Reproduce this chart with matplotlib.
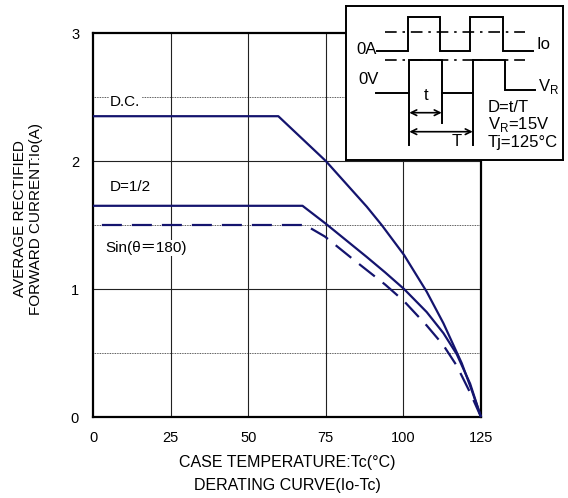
"""Derating curve Io-Tc (rectifier datasheet style)."""
import matplotlib
matplotlib.use("Agg")
import matplotlib.pyplot as plt

plt.rcParams["font.family"] = ["Liberation Sans", "Noto Sans CJK JP", "DejaVu Sans"]

# --- data ---
dc_t = [0, 59.7, 75, 88.2, 93, 100.2, 107.5, 112.9, 118.8, 122, 125]
dc_io = [2.35, 2.35, 2.0, 1.643, 1.50, 1.266, 0.979, 0.732, 0.42, 0.21, 0.0]

half_t = [0, 67.5, 75, 88.2, 94.1, 100.2, 107.5, 112.9, 117.2, 121.5, 125]
half_io = [1.65, 1.65, 1.51, 1.25, 1.13, 1.0, 0.82, 0.655, 0.49, 0.26, 0.0]

sin_t = [0, 68.3, 74.7, 83.9, 94.1, 100.2, 107.5, 112.9, 117.2, 121.5, 125]
sin_io = [1.5, 1.5, 1.41, 1.23, 1.035, 0.905, 0.715, 0.56, 0.40, 0.19, 0.0]

x_ticks = [0, 25, 50, 75, 100, 125]
y_ticks = [0, 1, 2, 3]
grid_x = [25, 50, 75, 100]
grid_y = [1, 2]
grid_y_dotted = [0.5, 1.5, 2.5]

# inset waveform sketch, in inset pixel units
io_x = [376.7, 408.3, 408.3, 440, 440, 470, 470, 503, 503, 532.7]
io_y = [50.7, 50.7, 17.3, 17.3, 50.7, 50.7, 17.3, 17.3, 50.7, 50.7]
vr_x = [376, 409.3, 409.3, 441.7, 441.7, 472.7, 472.7, 505, 505, 535]
vr_y = [92.7, 92.7, 60, 60, 92.7, 92.7, 60, 60, 90, 90]

NAVY = "#14146e"
W, H = 568, 498

fig = plt.figure(figsize=(W / 100, H / 100), dpi=100)
ax = fig.add_axes([93 / W, 81 / H, 388 / W, 384 / H])

for x in grid_x:
    ax.axvline(x, color="#222222", lw=0.8, zorder=1)
for y in grid_y:
    ax.axhline(y, color="#222222", lw=0.8, zorder=1)
for y in grid_y_dotted:
    ax.axhline(y, color="#222222", lw=0.6, ls=(0, (1, 1)), zorder=1)

ax.plot(dc_t, dc_io, color=NAVY, lw=1.6, zorder=3, clip_on=False,
        solid_capstyle="butt")
ax.plot(half_t, half_io, color=NAVY, lw=1.6, zorder=3, clip_on=False,
        solid_capstyle="butt")
ax.plot(sin_t, sin_io, color=NAVY, lw=1.6, zorder=3, clip_on=False,
        ls=(9.5, (9, 4.5)), dash_capstyle="butt")

box = dict(facecolor="white", edgecolor="none", pad=1.0)
ax.text(5.5, 2.46, "D.C.", fontsize=11, va="center", ha="left",
        bbox=box, zorder=2)
ax.text(5.5, 1.80, "D=1/2", fontsize=11, va="center", ha="left", zorder=2)
ax.text(3.9, 1.32, "Sin(θ＝180)", fontsize=11, va="center", ha="left",
        bbox=box, zorder=2)

ax.set_xlim(0, 125)
ax.set_ylim(0, 3)
ax.set_xticks(x_ticks)
ax.set_yticks(y_ticks)
ax.tick_params(length=0, pad=10, labelsize=10.5)
for sp in ax.spines.values():
    sp.set_linewidth(1.6)

fig.text(287 / W, 1 - 462 / H, "CASE TEMPERATURE:Tc(°C)", fontsize=11.5,
         ha="center", va="center")
fig.text(287 / W, 1 - 485 / H, "DERATING CURVE(Io-Tc)", fontsize=11.5,
         ha="center", va="center")
fig.text(28 / W, 1 - 219 / H, "AVERAGE RECTIFIED\nFORWARD CURRENT:Io(A)",
         fontsize=11, rotation=90, ha="center", va="center",
         multialignment="center", linespacing=1.15)

# --- inset with the waveform definition ---
ins = fig.add_axes([346 / W, 1 - 160 / H, 217 / W, 154 / H])
ins.set_xlim(346, 563)
ins.set_ylim(160, 6)
ins.set_xticks([])
ins.set_yticks([])
ins.set_facecolor("white")
for sp in ins.spines.values():
    sp.set_linewidth(1.4)

ins.plot(io_x, io_y, color="black", lw=1.4, solid_joinstyle="miter")
ins.plot(vr_x, vr_y, color="black", lw=1.4, solid_joinstyle="miter")
for y in (32.3, 60):
    ins.plot([385, 525], [y, y], color="black", lw=1.2,
             ls=(0, (7, 3.5, 1.5, 3.5)))
ins.plot([409.3, 409.3], [92.7, 145], color="black", lw=1.4)
ins.plot([441.7, 441.7], [92.7, 123.3], color="black", lw=1.4)
ins.plot([472.7, 472.7], [92.7, 145], color="black", lw=1.4)
ins.annotate("", xy=(409.3, 112.7), xytext=(441.7, 112.7),
             arrowprops=dict(arrowstyle="<->", lw=1.2, color="black",
                             shrinkA=0, shrinkB=0))
ins.annotate("", xy=(409.3, 131.7), xytext=(472.7, 131.7),
             arrowprops=dict(arrowstyle="<->", lw=1.2, color="black",
                             shrinkA=0, shrinkB=0))

fs = 12
ins.text(377, 50, "0A", fontsize=fs, ha="right", va="center")
ins.text(536, 45, "Io", fontsize=fs, ha="left", va="center")
ins.text(358, 80, "0V", fontsize=fs, ha="left", va="center")
ins.text(538, 87, r"V$_\mathregular{R}$", fontsize=fs, ha="left", va="center")
ins.text(426, 95, "t", fontsize=fs, ha="center", va="center")
ins.text(456.7, 142, "T", fontsize=fs, ha="center", va="center")
ins.text(488, 108, "D=t/T", fontsize=fs, ha="left", va="center")
ins.text(488, 125, r"V$_\mathregular{R}$=15V", fontsize=fs, ha="left",
         va="center")
ins.text(488, 143, "Tj=125°C", fontsize=fs, ha="left", va="center")

fig.savefig("out.png", dpi=100)
